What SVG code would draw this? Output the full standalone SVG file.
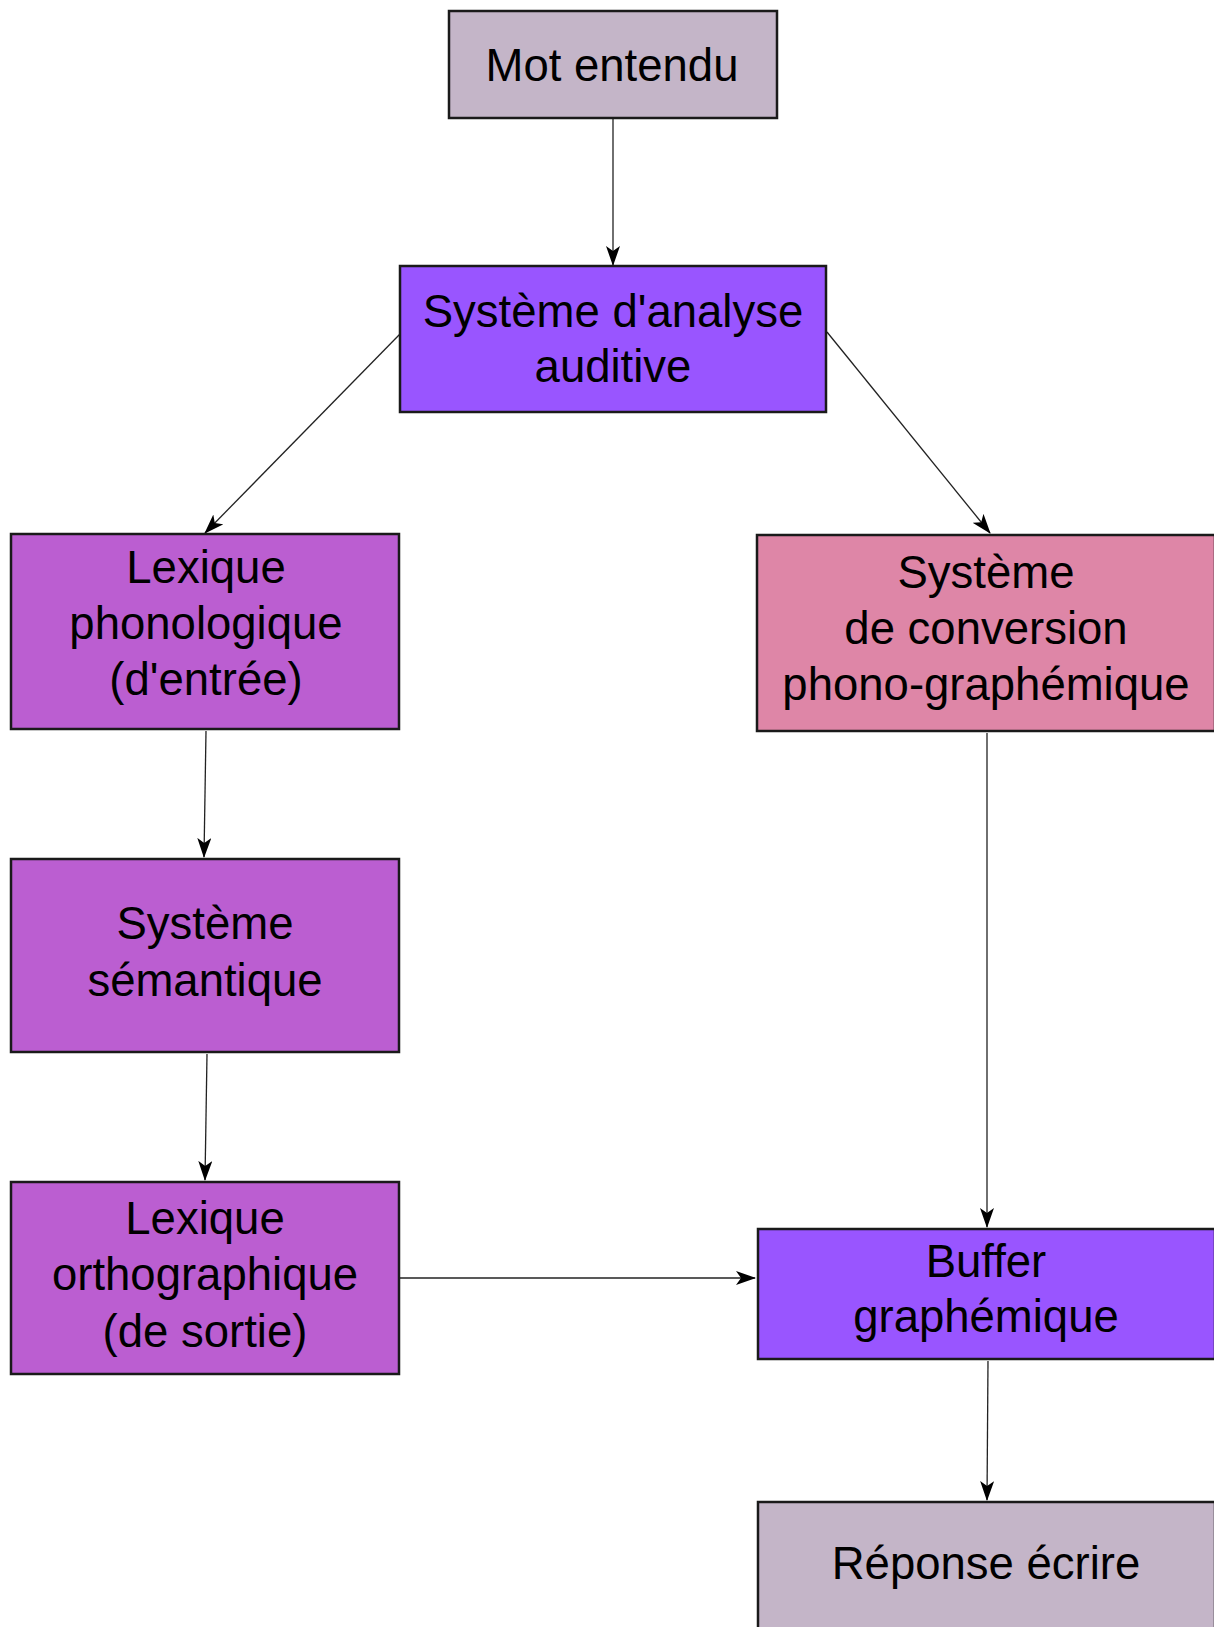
<svg xmlns="http://www.w3.org/2000/svg" width="1214" height="1627" viewBox="0 0 1214 1627">
<style>
.box{stroke:#1a1a1a;stroke-width:2.5}
.t{font-family:"Liberation Sans",Arial,sans-serif;font-size:45.5px;fill:#000;text-anchor:middle}
.c{stroke:#222;stroke-width:1.3;fill:none;marker-end:url(#ah)}
</style>
<defs>
<marker id="ah" viewBox="0 0 20 14" refX="19" refY="7" markerWidth="20" markerHeight="14" markerUnits="userSpaceOnUse" orient="auto">
<path d="M0,0 L20,7 L0,14 L5,7 Z" fill="#000"/>
</marker>
</defs>
<rect width="1214" height="1627" fill="#fff"/>
<g id="connectors">
<line class="c" x1="613" y1="119" x2="613" y2="265"/>
<line class="c" x1="400" y1="334" x2="205" y2="533"/>
<line class="c" x1="827" y1="332" x2="990" y2="533"/>
<line class="c" x1="206" y1="731" x2="204" y2="857"/>
<line class="c" x1="207" y1="1054" x2="205" y2="1180"/>
<line class="c" x1="987" y1="733" x2="987" y2="1227"/>
<line class="c" x1="399" y1="1278" x2="755" y2="1278"/>
<line class="c" x1="988" y1="1361" x2="987" y2="1500"/>
</g>
<g id="mot-entendu">
<rect class="box" x="449" y="11" width="328" height="107" fill="#C4B5C8"/>
<text class="t" x="612" y="81">Mot entendu</text>
</g>
<g id="analyse-auditive">
<rect class="box" x="400" y="266" width="426" height="146" fill="#9955FF"/>
<text class="t" x="613" y="327">Système d'analyse</text>
<text class="t" x="613" y="382">auditive</text>
</g>
<g id="lexique-phonologique">
<rect class="box" x="11" y="534" width="388" height="195" fill="#BB5ED1"/>
<text class="t" x="206" y="583">Lexique</text>
<text class="t" x="206" y="639">phonologique</text>
<text class="t" x="206" y="695">(d'entrée)</text>
</g>
<g id="conversion">
<rect class="box" x="757" y="535" width="458" height="196" fill="#DE86A7"/>
<text class="t" x="986" y="588">Système</text>
<text class="t" x="986" y="644">de conversion</text>
<text class="t" x="986" y="700">phono-graphémique</text>
</g>
<g id="semantique">
<rect class="box" x="11" y="859" width="388" height="193" fill="#BB5ED1"/>
<text class="t" x="205" y="939">Système</text>
<text class="t" x="205" y="996">sémantique</text>
</g>
<g id="lexique-orthographique">
<rect class="box" x="11" y="1182" width="388" height="192" fill="#BB5ED1"/>
<text class="t" x="205" y="1234">Lexique</text>
<text class="t" x="205" y="1290">orthographique</text>
<text class="t" x="205" y="1347">(de sortie)</text>
</g>
<g id="buffer">
<rect class="box" x="758" y="1229" width="457" height="130" fill="#9955FF"/>
<text class="t" x="986" y="1277">Buffer</text>
<text class="t" x="986" y="1332">graphémique</text>
</g>
<g id="reponse">
<rect class="box" x="758" y="1502" width="457" height="140" fill="#C4B5C8"/>
<text class="t" x="986" y="1579">Réponse écrire</text>
</g>
</svg>
